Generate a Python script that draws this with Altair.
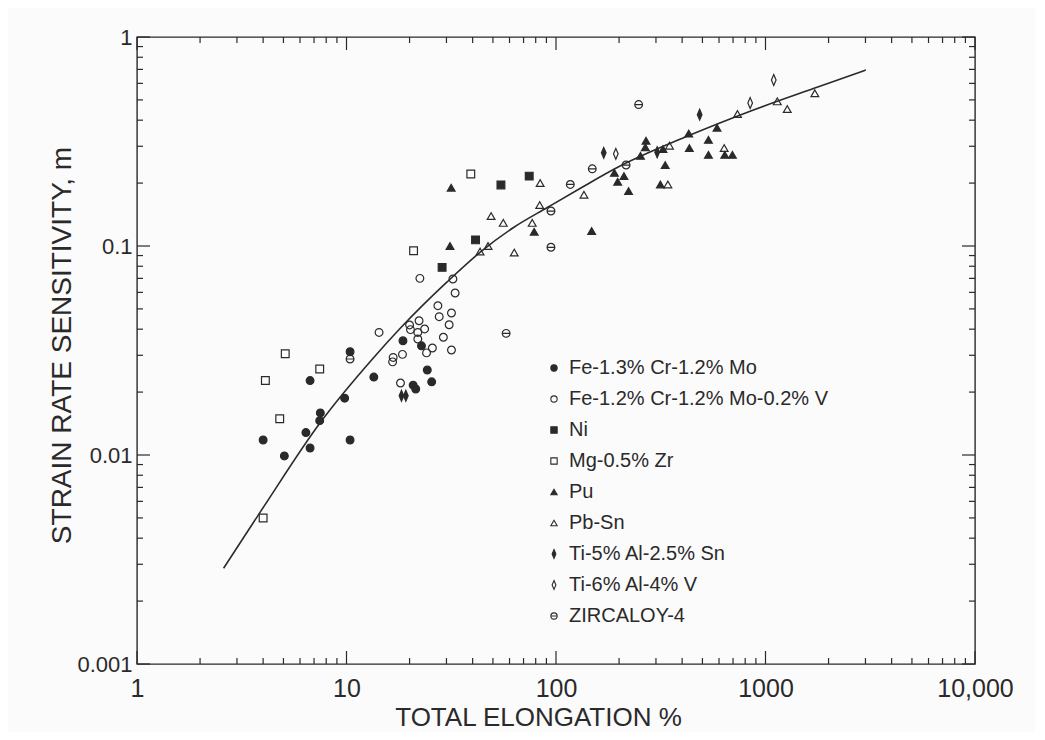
import altair as alt
import pandas as pd

# ---------------- data ----------------
SERIES = [
    "Fe-1.3% Cr-1.2% Mo",
    "Fe-1.2% Cr-1.2% Mo-0.2% V",
    "Ni",
    "Mg-0.5% Zr",
    "Pu",
    "Pb-Sn",
    "Ti-5% Al-2.5% Sn",
    "Ti-6% Al-4% V",
    "ZIRCALOY-4",
]

fe13_x = [4.0, 5.05, 6.7, 6.4, 6.7, 7.5, 7.45, 9.8, 10.4, 10.4, 13.5, 18.6, 22.8, 24.3, 25.5, 20.8, 21.4]
fe13_y = [0.0118, 0.0099, 0.0227, 0.0128, 0.0108, 0.0159, 0.0146, 0.0187, 0.0312, 0.0118, 0.0236,
          0.0352, 0.0333, 0.0255, 0.0224, 0.0216, 0.0207]

fe12_x = [14.3, 16.7, 16.6, 18.5, 18.1, 20.0, 20.2, 22.2, 21.9, 23.6, 21.9, 24.1, 25.7, 29.0, 30.9,
          31.7, 27.3, 27.7, 31.7, 33.0, 22.4, 32.2]
fe12_y = [0.0386, 0.0293, 0.0279, 0.0303, 0.0221, 0.0419, 0.0398, 0.0439, 0.0386, 0.0401, 0.0359,
          0.0308, 0.0325, 0.0366, 0.042, 0.0478, 0.0518, 0.0459, 0.0318, 0.0596, 0.070, 0.0695]

ni_x = [28.6, 41.3, 54.6, 74.5]
ni_y = [0.079, 0.107, 0.196, 0.216]

mg_x = [5.1, 4.1, 7.45, 4.8, 4.0, 20.9, 39.2]
mg_y = [0.0305, 0.0227, 0.0258, 0.0149, 0.0050, 0.095, 0.221]

pu_x = [31.6, 31.2, 78.7, 148, 190, 211, 197, 222, 269, 267, 253, 324, 332, 315, 430, 587, 534,
        433, 534, 639, 695]
pu_y = [0.190, 0.100, 0.117, 0.118, 0.224, 0.216, 0.203, 0.183, 0.319, 0.297, 0.270, 0.291, 0.244,
        0.197, 0.345, 0.368, 0.322, 0.294, 0.273, 0.273, 0.273]

pbsn_x = [84, 136, 83.6, 49, 56, 77, 63.2, 43.4, 47.4, 348, 342, 735, 1138, 1270, 1720, 635]
pbsn_y = [0.200, 0.176, 0.157, 0.139, 0.129, 0.129, 0.093, 0.094, 0.100, 0.302, 0.197, 0.428,
          0.492, 0.452, 0.538, 0.294]

ti5_x = [18.3, 19.2, 169, 304, 485]
ti5_y = [0.0192, 0.0192, 0.279, 0.281, 0.425]

ti6_x = [193, 845, 1095]
ti6_y = [0.276, 0.483, 0.623]

zirc_x = [10.4, 57.8, 94.6, 94.6, 117, 149, 216, 248]
zirc_y = [0.0288, 0.0382, 0.0986, 0.147, 0.197, 0.234, 0.244, 0.475]

curve_x = [2.59, 4.0, 7.5, 13.3, 18.1, 30.3, 43.8, 63, 91.3, 132, 197, 411, 857, 1790, 3010]
curve_y = [0.00287, 0.0056, 0.0143, 0.0288, 0.0405, 0.0675, 0.094, 0.123, 0.1532, 0.190, 0.238,
           0.331, 0.444, 0.578, 0.695]

x_major = [1, 10, 100, 1000, 10000]
y_major = [0.001, 0.01, 0.1, 1]
x_minor = [m * 10 ** e for e in range(0, 4) for m in range(2, 10)]
y_minor = [m * 10.0 ** e for e in range(-3, 0) for m in range(2, 10)]

# ---------------- styling ----------------
INK = "#2a2a2a"
FONT = "Liberation Sans"
DIAMOND = "M0,-1.4L0.6,0L0,1.4L-0.6,0Z"
ZIRC = "M-1,0A1,1,0,1,0,1,0A1,1,0,1,0,-1,0ZM-1,0L1,0"
SHAPES = ["circle", "circle", "square", "square", "triangle-up", "triangle-up", DIAMOND, DIAMOND, ZIRC]
FILLS = [INK, "transparent", INK, "transparent", INK, "transparent", INK, "transparent", "transparent"]
STROKES = [INK] * len(SERIES)

W, H = 838, 627
MAJ, MIN = 13, 6

series_x = [fe13_x, fe12_x, ni_x, mg_x, pu_x, pbsn_x, ti5_x, ti6_x, zirc_x]
series_y = [fe13_y, fe12_y, ni_y, mg_y, pu_y, pbsn_y, ti5_y, ti6_y, zirc_y]
rows = []
for name, xv, yv in zip(SERIES, series_x, series_y):
    for a, b in zip(xv, yv):
        rows.append({"series": name, "elong": a, "m": b})
pts = pd.DataFrame(rows)
curve = pd.DataFrame({"elong": curve_x, "m": curve_y})

xs = alt.Scale(type="log", domain=[1, 10000], nice=False)
ys = alt.Scale(type="log", domain=[0.001, 1], nice=False)

xaxis = alt.Axis(
    values=x_major,
    labelExpr="datum.value == 10000 ? '10,000' : format(datum.value, '~g')",
    ticks=False, domain=False, grid=False,
    labelFont=FONT, labelFontSize=25, labelPadding=12, labelColor=INK,
    labelFlush=False, labelOverlap=False,
    title="TOTAL ELONGATION %", titleFont=FONT, titleFontSize=26, titleFontWeight="normal",
    titleColor=INK, titleX=401, titleY=61, titleAlign="center", titleBaseline="alphabetic",
)
yaxis = alt.Axis(
    values=y_major,
    labelExpr="format(datum.value, '~g')",
    ticks=False, domain=False, grid=False,
    labelFont=FONT, labelFontSize=22, labelPadding=5, labelColor=INK,
    labelFlush=False, labelOverlap=False,
    title="STRAIN RATE SENSITIVITY, m", titleFont=FONT, titleFontSize=28, titleFontWeight="normal",
    titleColor=INK, titleX=-67, titleY=308, titleAlign="center", titleBaseline="alphabetic",
    titleAngle=270,
)

X = lambda f: alt.X(f, type="quantitative", scale=xs, axis=xaxis)
Y = lambda f: alt.Y(f, type="quantitative", scale=ys, axis=yaxis)

leg = alt.Legend(
    orient="none", legendX=407, legendY=321, title=None, padding=0,
    labelFont=FONT, labelFontSize=20, labelColor=INK, labelOffset=5,
    symbolSize=40, symbolStrokeWidth=1.1,
    rowPadding=11, labelLimit=400,
)

line = alt.Chart(curve).mark_line(color=INK, strokeWidth=1.6, interpolate="monotone").encode(
    x=X("elong"), y=Y("m")
)

points = alt.Chart(pts).mark_point(filled=True, size=60, opacity=1, strokeWidth=1.2).encode(
    x=X("elong"),
    y=Y("m"),
    shape=alt.Shape("series:N", scale=alt.Scale(domain=SERIES, range=SHAPES), legend=leg),
    fill=alt.Fill("series:N", scale=alt.Scale(domain=SERIES, range=FILLS), legend=leg),
    stroke=alt.Stroke("series:N", scale=alt.Scale(domain=SERIES, range=STROKES), legend=leg),
)


def xticks(vals, length, top):
    d = pd.DataFrame({"t": vals})
    if top:
        yy, yy2 = alt.value(0), alt.value(length)
    else:
        yy, yy2 = alt.value(H), alt.value(H - length)
    return alt.Chart(d).mark_rule(color=INK, strokeWidth=1.2).encode(x=X("t"), y=yy, y2=yy2)


def yticks(vals, length, right):
    d = pd.DataFrame({"t": vals})
    if right:
        xx, xx2 = alt.value(W), alt.value(W - length)
    else:
        xx, xx2 = alt.value(0), alt.value(length)
    return alt.Chart(d).mark_rule(color=INK, strokeWidth=1.2).encode(y=Y("t"), x=xx, x2=xx2)


ticks = [
    xticks(x_major, MAJ, False), xticks(x_minor, MIN, False),
    xticks(x_major, MAJ, True), xticks(x_minor, MIN, True),
    yticks(y_major, MAJ, False), yticks(y_minor, MIN, False),
    yticks(y_major, MAJ, True), yticks(y_minor, MIN, True),
]

chart = alt.layer(*ticks, line, points).properties(
    width=W, height=H,
    padding={"left": 129, "top": 29, "right": 60, "bottom": 68},
    autosize=alt.AutoSizeParams(type="none"),
    background="#fcfbfc",
).configure_view(stroke=INK, strokeWidth=1.4)

chart.save("out.html", embed_options={"renderer": "svg", "actions": False})
